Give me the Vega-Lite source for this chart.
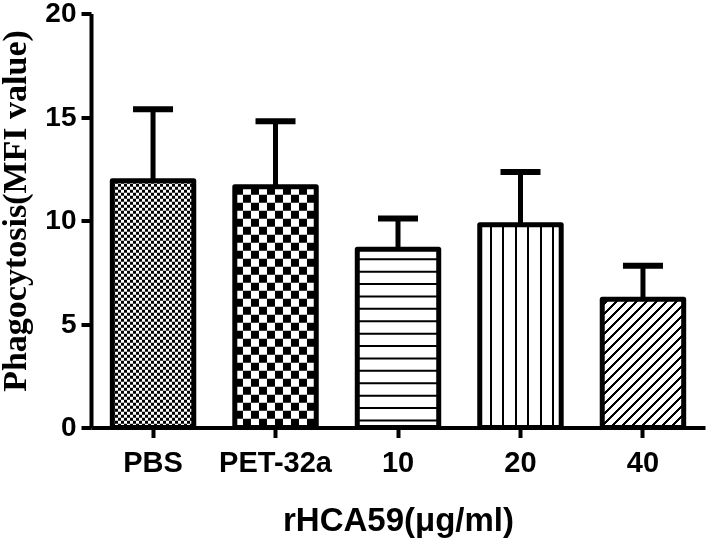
{
  "$schema": "https://vega.github.io/schema/vega-lite/v6.json",
  "width": 614,
  "height": 414,
  "autosize": "none",
  "padding": {"left": 91, "top": 13.5, "right": 4, "bottom": 113.5},
  "config": {
    "view": {"stroke": null},
    "axis": {
      "domainColor": "black",
      "tickColor": "black",
      "labelColor": "black",
      "titleColor": "black",
      "domainWidth": 4,
      "tickWidth": 4,
      "grid": false,
      "labelFont": "Liberation Sans",
      "labelFontWeight": "bold",
      "labelFontSize": 28
    }
  },
  "data": {
    "values": [
      {"group": "PBS", "mean": 11.92, "upper": 15.37},
      {"group": "PET-32a", "mean": 11.63, "upper": 14.79},
      {"group": "10", "mean": 8.61, "upper": 10.1},
      {"group": "20", "mean": 9.79, "upper": 12.34},
      {"group": "40", "mean": 6.2, "upper": 7.82}
    ]
  },
  "encoding": {
    "x": {
      "field": "group",
      "type": "nominal",
      "sort": null,
      "scale": {"domain": ["PBS", "PET-32a", "10", "20", "40"], "paddingInner": 0.335, "paddingOuter": 0.174},
      "axis": {
        "title": "rHCA59(μg/ml)",
        "labelAngle": 0,
        "tickSize": 10,
        "labelPadding": 11,
        "labelFontSize": 29,
        "titleFont": "Liberation Sans",
        "titleFontWeight": "bold",
        "titleFontSize": 33,
        "titleBaseline": "alphabetic",
        "titleY": 103
      }
    },
    "y": {
      "field": "mean",
      "type": "quantitative",
      "title": "Phagocytosis(MFI value)",
      "scale": {"domain": [0, 20], "nice": false},
      "axis": {
        "values": [0, 5, 10, 15, 20],
        "tickSize": 10,
        "labelPadding": 5,
        "titleFont": "Liberation Serif",
        "titleFontWeight": "bold",
        "titleFontSize": 34,
        "titleBaseline": "alphabetic",
        "titleAlign": "center",
        "titleX": -66,
        "titleY": 197
      }
    }
  },
  "layer": [
    {
      "transform": [{"filter": "datum.group === 'PBS'"}],
      "mark": {
        "type": "bar",
        "fill": {
          "gradient": "linear", "x1": 0, "y1": 0, "x2": 1, "y2": 0,
          "stops": [
            {"offset": 0, "color": "black"},
            {"offset": 0.0368, "color": "black"}, {"offset": 0.0368, "color": "white"},
            {"offset": 0.0737, "color": "white"}, {"offset": 0.0737, "color": "black"},
            {"offset": 0.1105, "color": "black"}, {"offset": 0.1105, "color": "white"},
            {"offset": 0.1473, "color": "white"}, {"offset": 0.1473, "color": "black"},
            {"offset": 0.1842, "color": "black"}, {"offset": 0.1842, "color": "white"},
            {"offset": 0.221, "color": "white"}, {"offset": 0.221, "color": "black"},
            {"offset": 0.2578, "color": "black"}, {"offset": 0.2578, "color": "white"},
            {"offset": 0.2946, "color": "white"}, {"offset": 0.2946, "color": "black"},
            {"offset": 0.3315, "color": "black"}, {"offset": 0.3315, "color": "white"},
            {"offset": 0.3683, "color": "white"}, {"offset": 0.3683, "color": "black"},
            {"offset": 0.4051, "color": "black"}, {"offset": 0.4051, "color": "white"},
            {"offset": 0.442, "color": "white"}, {"offset": 0.442, "color": "black"},
            {"offset": 0.4788, "color": "black"}, {"offset": 0.4788, "color": "white"},
            {"offset": 0.5156, "color": "white"}, {"offset": 0.5156, "color": "black"},
            {"offset": 0.5525, "color": "black"}, {"offset": 0.5525, "color": "white"},
            {"offset": 0.5893, "color": "white"}, {"offset": 0.5893, "color": "black"},
            {"offset": 0.6261, "color": "black"}, {"offset": 0.6261, "color": "white"},
            {"offset": 0.6629, "color": "white"}, {"offset": 0.6629, "color": "black"},
            {"offset": 0.6998, "color": "black"}, {"offset": 0.6998, "color": "white"},
            {"offset": 0.7366, "color": "white"}, {"offset": 0.7366, "color": "black"},
            {"offset": 0.7734, "color": "black"}, {"offset": 0.7734, "color": "white"},
            {"offset": 0.8103, "color": "white"}, {"offset": 0.8103, "color": "black"},
            {"offset": 0.8471, "color": "black"}, {"offset": 0.8471, "color": "white"},
            {"offset": 0.8839, "color": "white"}, {"offset": 0.8839, "color": "black"},
            {"offset": 0.9208, "color": "black"}, {"offset": 0.9208, "color": "white"},
            {"offset": 0.9576, "color": "white"}, {"offset": 0.9576, "color": "black"},
            {"offset": 0.9944, "color": "black"}, {"offset": 0.9944, "color": "white"},
            {"offset": 1, "color": "white"}
          ]
        }
      }
    },
    {
      "transform": [{"filter": "datum.group === 'PBS'"}],
      "mark": {"type": "rule", "color": "white", "strokeWidth": 81.5, "strokeDash": [3, 3], "blend": "difference"},
      "encoding": {"y2": {"datum": 0}}
    },
    {
      "transform": [{"filter": "datum.group === 'PET-32a'"}],
      "mark": {
        "type": "bar",
        "fill": {
          "gradient": "linear", "x1": 0, "y1": 0, "x2": 1, "y2": 0,
          "stops": [
            {"offset": 0, "color": "white"},
            {"offset": 0.0982, "color": "white"}, {"offset": 0.0982, "color": "black"},
            {"offset": 0.1964, "color": "black"}, {"offset": 0.1964, "color": "white"},
            {"offset": 0.2946, "color": "white"}, {"offset": 0.2946, "color": "black"},
            {"offset": 0.3928, "color": "black"}, {"offset": 0.3928, "color": "white"},
            {"offset": 0.4911, "color": "white"}, {"offset": 0.4911, "color": "black"},
            {"offset": 0.5893, "color": "black"}, {"offset": 0.5893, "color": "white"},
            {"offset": 0.6875, "color": "white"}, {"offset": 0.6875, "color": "black"},
            {"offset": 0.7857, "color": "black"}, {"offset": 0.7857, "color": "white"},
            {"offset": 0.8839, "color": "white"}, {"offset": 0.8839, "color": "black"},
            {"offset": 0.9821, "color": "black"}, {"offset": 0.9821, "color": "white"},
            {"offset": 1, "color": "white"}
          ]
        }
      }
    },
    {
      "transform": [{"filter": "datum.group === 'PET-32a'"}],
      "mark": {"type": "rule", "color": "white", "strokeWidth": 81.5, "strokeDash": [8, 8], "blend": "difference"},
      "encoding": {"y2": {"datum": 0}}
    },
    {
      "transform": [{"filter": "datum.group === '10'"}],
      "mark": {"type": "bar", "fill": "white"}
    },
    {
      "transform": [{"filter": "datum.group === '10'"}],
      "mark": {"type": "rule", "color": "black", "strokeWidth": 81.5, "strokeDash": [2, 10.4], "strokeDashOffset": 3.4},
      "encoding": {"y2": {"datum": 0}}
    },
    {
      "transform": [{"filter": "datum.group === '20'"}],
      "mark": {
        "type": "bar",
        "fill": {
          "gradient": "linear", "x1": 0, "y1": 0, "x2": 1, "y2": 0,
          "stops": [
            {"offset": 0, "color": "white"},
            {"offset": 0.127, "color": "white"}, {"offset": 0.127, "color": "black"},
            {"offset": 0.151, "color": "black"}, {"offset": 0.151, "color": "white"},
            {"offset": 0.279, "color": "white"}, {"offset": 0.279, "color": "black"},
            {"offset": 0.303, "color": "black"}, {"offset": 0.303, "color": "white"},
            {"offset": 0.431, "color": "white"}, {"offset": 0.431, "color": "black"},
            {"offset": 0.455, "color": "black"}, {"offset": 0.455, "color": "white"},
            {"offset": 0.583, "color": "white"}, {"offset": 0.583, "color": "black"},
            {"offset": 0.607, "color": "black"}, {"offset": 0.607, "color": "white"},
            {"offset": 0.735, "color": "white"}, {"offset": 0.735, "color": "black"},
            {"offset": 0.759, "color": "black"}, {"offset": 0.759, "color": "white"},
            {"offset": 0.887, "color": "white"}, {"offset": 0.887, "color": "black"},
            {"offset": 0.911, "color": "black"}, {"offset": 0.911, "color": "white"},
            {"offset": 1, "color": "white"}
          ]
        }
      }
    },
    {
      "transform": [{"filter": "datum.group === '40'"}],
      "mark": {
        "type": "bar",
        "fill": {
          "gradient": "linear", "x1": 0, "y1": 0, "x2": 0.74, "y2": 1.165,
          "stops": [
            {"offset": 0, "color": "white"},
            {"offset": 0.0235, "color": "white"}, {"offset": 0.0235, "color": "black"},
            {"offset": 0.0365, "color": "black"}, {"offset": 0.0365, "color": "white"},
            {"offset": 0.0712, "color": "white"}, {"offset": 0.0712, "color": "black"},
            {"offset": 0.0842, "color": "black"}, {"offset": 0.0842, "color": "white"},
            {"offset": 0.1189, "color": "white"}, {"offset": 0.1189, "color": "black"},
            {"offset": 0.1319, "color": "black"}, {"offset": 0.1319, "color": "white"},
            {"offset": 0.1666, "color": "white"}, {"offset": 0.1666, "color": "black"},
            {"offset": 0.1796, "color": "black"}, {"offset": 0.1796, "color": "white"},
            {"offset": 0.2143, "color": "white"}, {"offset": 0.2143, "color": "black"},
            {"offset": 0.2273, "color": "black"}, {"offset": 0.2273, "color": "white"},
            {"offset": 0.262, "color": "white"}, {"offset": 0.262, "color": "black"},
            {"offset": 0.275, "color": "black"}, {"offset": 0.275, "color": "white"},
            {"offset": 0.3097, "color": "white"}, {"offset": 0.3097, "color": "black"},
            {"offset": 0.3227, "color": "black"}, {"offset": 0.3227, "color": "white"},
            {"offset": 0.3574, "color": "white"}, {"offset": 0.3574, "color": "black"},
            {"offset": 0.3704, "color": "black"}, {"offset": 0.3704, "color": "white"},
            {"offset": 0.4051, "color": "white"}, {"offset": 0.4051, "color": "black"},
            {"offset": 0.4181, "color": "black"}, {"offset": 0.4181, "color": "white"},
            {"offset": 0.4528, "color": "white"}, {"offset": 0.4528, "color": "black"},
            {"offset": 0.4658, "color": "black"}, {"offset": 0.4658, "color": "white"},
            {"offset": 0.5005, "color": "white"}, {"offset": 0.5005, "color": "black"},
            {"offset": 0.5135, "color": "black"}, {"offset": 0.5135, "color": "white"},
            {"offset": 0.5482, "color": "white"}, {"offset": 0.5482, "color": "black"},
            {"offset": 0.5612, "color": "black"}, {"offset": 0.5612, "color": "white"},
            {"offset": 0.5959, "color": "white"}, {"offset": 0.5959, "color": "black"},
            {"offset": 0.6089, "color": "black"}, {"offset": 0.6089, "color": "white"},
            {"offset": 0.6436, "color": "white"}, {"offset": 0.6436, "color": "black"},
            {"offset": 0.6566, "color": "black"}, {"offset": 0.6566, "color": "white"},
            {"offset": 0.6913, "color": "white"}, {"offset": 0.6913, "color": "black"},
            {"offset": 0.7043, "color": "black"}, {"offset": 0.7043, "color": "white"},
            {"offset": 0.739, "color": "white"}, {"offset": 0.739, "color": "black"},
            {"offset": 0.752, "color": "black"}, {"offset": 0.752, "color": "white"},
            {"offset": 0.7867, "color": "white"}, {"offset": 0.7867, "color": "black"},
            {"offset": 0.7997, "color": "black"}, {"offset": 0.7997, "color": "white"},
            {"offset": 0.8344, "color": "white"}, {"offset": 0.8344, "color": "black"},
            {"offset": 0.8474, "color": "black"}, {"offset": 0.8474, "color": "white"},
            {"offset": 0.8821, "color": "white"}, {"offset": 0.8821, "color": "black"},
            {"offset": 0.8951, "color": "black"}, {"offset": 0.8951, "color": "white"},
            {"offset": 0.9298, "color": "white"}, {"offset": 0.9298, "color": "black"},
            {"offset": 0.9428, "color": "black"}, {"offset": 0.9428, "color": "white"},
            {"offset": 0.9775, "color": "white"}, {"offset": 0.9775, "color": "black"},
            {"offset": 0.9905, "color": "black"}, {"offset": 0.9905, "color": "white"},
            {"offset": 1, "color": "white"}
          ]
        }
      }
    },
    {
      "mark": {"type": "rule", "color": "black", "strokeWidth": 5},
      "encoding": {"y2": {"field": "upper"}}
    },
    {
      "mark": {"type": "tick", "color": "black", "opacity": 1, "size": 40, "thickness": 6},
      "encoding": {"y": {"field": "upper", "type": "quantitative", "title": "Phagocytosis(MFI value)"}}
    },
    {
      "mark": {"type": "bar", "fill": "white", "fillOpacity": 0, "stroke": "black", "strokeWidth": 5, "strokeJoin": "round"}
    }
  ]
}
